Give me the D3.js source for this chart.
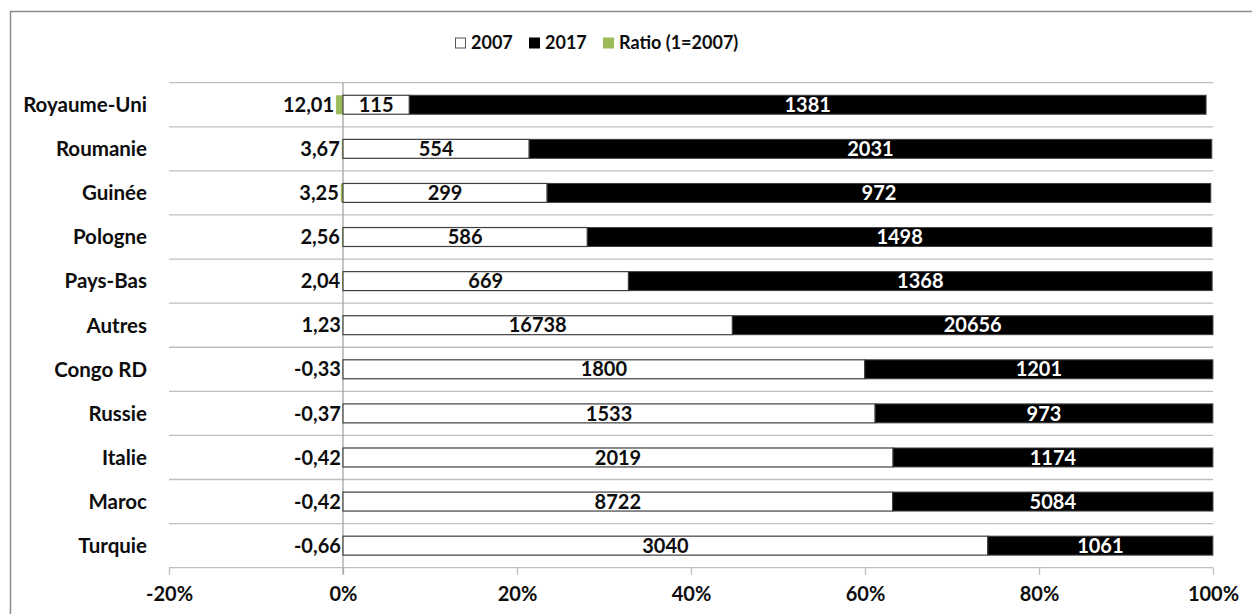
<!DOCTYPE html>
<html><head><meta charset="utf-8">
<script src="https://cdn.jsdelivr.net/npm/d3@7"></script>
<style>
html,body{margin:0;padding:0;background:#fff;}
svg{display:block;font-family:Lato,"Open Sans",sans-serif;font-weight:bold;}
</style></head>
<body>
<svg id="c" width="1252" height="614"></svg>
<script>
const categories = ["Royaume-Uni","Roumanie","Guinée","Pologne","Pays-Bas","Autres","Congo RD","Russie","Italie","Maroc","Turquie"];
const values2007 = [115,554,299,586,669,16738,1800,1533,2019,8722,3040];
const values2017 = [1381,2031,972,1498,1368,20656,1201,973,1174,5084,1061];
const ratio = [12.01,3.67,3.25,2.56,2.04,1.23,-0.33,-0.37,-0.42,-0.42,-0.66];
const ratioLabels = ["12,01","3,67","3,25","2,56","2,04","1,23","-0,33","-0,37","-0,42","-0,42","-0,66"];
const xTicks = [-0.2,0,0.2,0.4,0.6,0.8,1.0];
const seriesNames = ["2007","2017","Ratio (1=2007)"];
const colors = {y2007:"#ffffff", y2017:"#000000", ratio:"#9bbb59"};

const svg = d3.select("#c");
// chart frame
svg.append("rect").attr("x",10.5).attr("y",11.5).attr("width",1300).attr("height",700)
  .attr("fill","none").attr("stroke","#8c8c8c").attr("stroke-width",1.5);

const x = d3.scaleLinear().domain([-0.2,1]).range([169,1213]);
const y = d3.scaleBand().domain(categories).range([82.7,567.7]).padding(0);
const bh = y.bandwidth()*0.43;

const data = categories.map((c,i)=>{
  const tot = values2007[i]+values2017[i]+Math.abs(ratio[i]);
  return {c, a:values2007[i], b:values2017[i], r:ratio[i], rl:ratioLabels[i],
    pa:values2007[i]/tot, pb:values2017[i]/tot, pr:Math.abs(ratio[i])/tot};
});

// gridlines
const gl = svg.append("g");
const bounds = categories.map(c=>y(c)).concat([y.range()[1]]);
gl.selectAll("line").data(bounds).join("line")
  .attr("x1",x(-0.2)).attr("x2",x(1)).attr("y1",d=>d).attr("y2",d=>d)
  .attr("stroke","#bfbfbf").attr("stroke-width",1.3);

// x axis ticks
const xa = svg.append("g").attr("transform",`translate(0,${y.range()[1]})`)
  .call(d3.axisBottom(x).tickValues(xTicks).tickSize(7).tickPadding(12)
    .tickFormat(d=>Math.round(d*100)+"%"));
xa.select(".domain").remove();
xa.selectAll(".tick line").attr("stroke","#bfbfbf").attr("stroke-width",1.3);
xa.selectAll(".tick text").attr("font-size",20).attr("font-family","Lato").attr("font-weight","bold").attr("fill","#0d0d0d");

// zero axis
svg.append("line").attr("x1",x(0)).attr("x2",x(0)).attr("y1",y.range()[0]).attr("y2",y.range()[1]+7)
  .attr("stroke","#a6a6a6").attr("stroke-width",1.3);

const rows = svg.append("g").selectAll("g").data(data).join("g")
  .attr("transform",d=>`translate(0,${y(d.c)+(y.bandwidth()-bh)/2})`);

rows.append("rect").attr("x",d=>x(-d.pr)).attr("width",d=>x(0)-x(-d.pr)).attr("height",bh)
  .attr("fill",colors.ratio);
rows.append("rect").attr("x",x(0)).attr("width",d=>x(d.pa)-x(0)).attr("height",bh)
  .attr("fill",colors.y2007).attr("stroke","#404040").attr("stroke-width",1.2);
rows.append("rect").attr("x",d=>x(d.pa)).attr("width",d=>x(d.pa+d.pb)-x(d.pa)).attr("height",bh)
  .attr("fill",colors.y2017).attr("stroke","#404040").attr("stroke-width",1);

rows.append("text").attr("x",d=>(x(0)+x(d.pa))/2).attr("y",bh/2).attr("dy","0.36em")
  .attr("text-anchor","middle").attr("font-size",20).attr("fill","#0d0d0d").text(d=>d.a);
rows.append("text").attr("x",d=>(x(d.pa)+x(d.pa+d.pb))/2).attr("y",bh/2).attr("dy","0.36em")
  .attr("text-anchor","middle").attr("font-size",20).attr("fill","#fff").text(d=>d.b);
rows.append("text").attr("x",d=>x(-d.pr)-2).attr("y",bh/2).attr("dy","0.36em")
  .attr("text-anchor","end").attr("font-size",20).attr("fill","#0d0d0d").text(d=>d.rl);

// category labels
svg.append("g").selectAll("text").data(categories).join("text")
  .attr("x",147).attr("y",d=>y(d)+y.bandwidth()/2).attr("dy","0.36em")
  .attr("text-anchor","end").attr("font-size",20.5).attr("fill","#0d0d0d").text(d=>d);

// legend
const leg = svg.append("g").attr("font-size",18);
const legItems = [
  {name:seriesNames[0], fill:colors.y2007, stroke:"#555", x:455},
  {name:seriesNames[1], fill:colors.y2017, stroke:"#000", x:529},
  {name:seriesNames[2], fill:colors.ratio, stroke:colors.ratio, x:603}
];
const li = leg.selectAll("g").data(legItems).join("g").attr("transform",d=>`translate(${d.x},43)`);
li.append("rect").attr("x",0.5).attr("y",-5).attr("width",10).attr("height",10)
  .attr("fill",d=>d.fill).attr("stroke",d=>d.stroke);
li.append("text").attr("x",16).attr("dy","0.36em").attr("fill","#0d0d0d").text(d=>d.name);
</script>
</body></html>
